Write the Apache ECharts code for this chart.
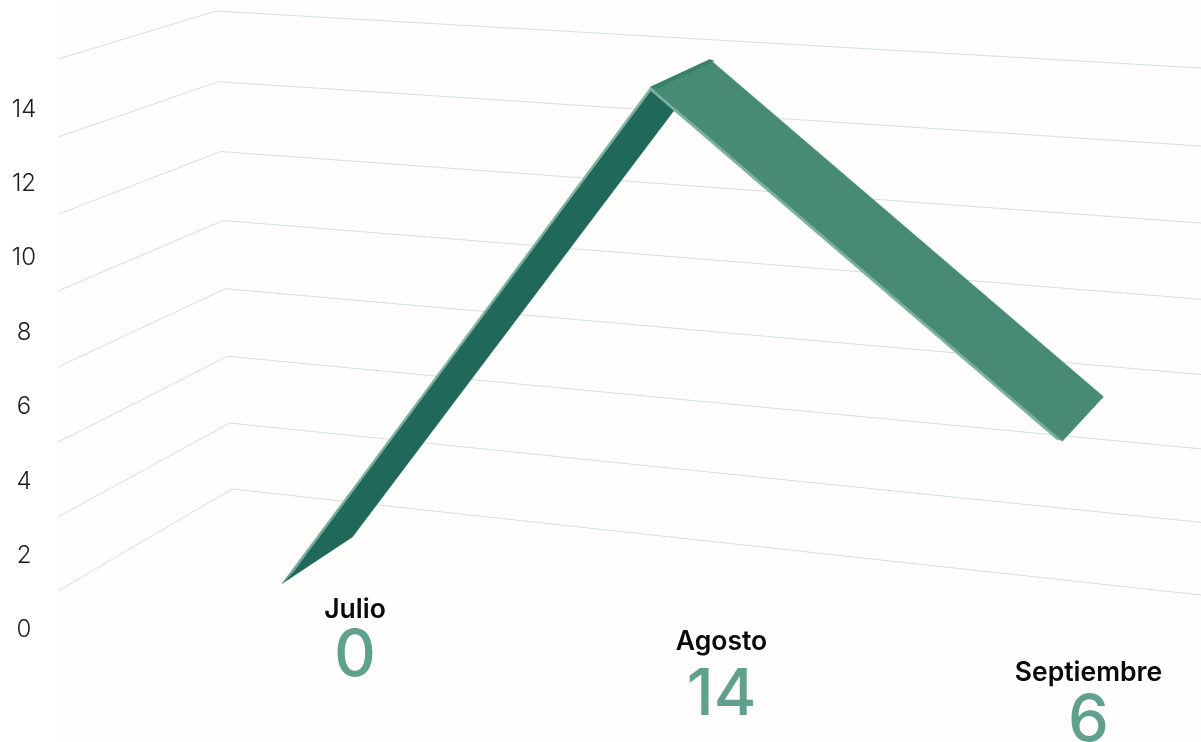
<!DOCTYPE html>
<html><head><meta charset="utf-8">
<style>html,body{margin:0;padding:0;background:#fff;overflow:hidden}#c{width:1201px;height:742px}</style>
<script src="https://cdn.jsdelivr.net/npm/echarts@6/dist/echarts.min.js"></script>
</head><body><div id="c"></div>
<script>
const categories = ['Julio', 'Agosto', 'Septiembre'];
const values = [0, 14, 6];
const tickValues = [0, 2, 4, 6, 8, 10, 12, 14];

const FONT = 'Inter';
const GRID = {left: 58, right: 0, top: 109.5, bottom: 112};
const MAXV = 14;
const SPANX = 1.108, OFFX = 0.001;
const X_NUDGE = [0, -0.003, 0];
const Z_FRONT = 0.74, Z_BACK = 0.303;
const THICK = 0.09;
const WALL_LEFT_PX = 58;
const LABEL_X = [355, 721.5, 1088.5];
const LABEL_Y = [610.5, 642.5, 673.5];
const NUMBER_Y = [656, 695, 721];
const MAT = [[855.2, -1.74, -179.4, 232],
             [49.65, -34.17, 47.44, 489],
             [-0.09475, -0.00277, -0.0923, 1]];
function project(X, Y, Z) {
  const r = m => m[0]*X + m[1]*Y + m[2]*Z + m[3];
  const w = r(MAT[2]);
  return [r(MAT[0])/w, r(MAT[1])/w];
}
// depth at which a wall line at height Y reaches the left edge of the plot
function wallDepth(Y) {
  const u = WALL_LEFT_PX;
  return (u*(MAT[2][1]*Y+1) - MAT[0][1]*Y - MAT[0][3]) / (MAT[0][2] - u*MAT[2][2]);
}
function world(api, params, i, v) {
  const g = params.coordSys, p = api.coord([i, v]);
  return [(p[0]-g.x)/g.width*SPANX + OFFX + X_NUDGE[i], (g.y+g.height-p[1])/g.height*MAXV];
}
const poly = (points, fill, z2) => ({type:'polygon', z2: z2, shape:{points}, style:{fill, stroke:fill, lineWidth:0.4}});
const mix = (a, b, t) => [a[0]+(b[0]-a[0])*t, a[1]+(b[1]-a[1])*t];

const chart = echarts.init(document.getElementById('c'), null, {renderer:'canvas'});
chart.setOption({
  animation:false,
  backgroundColor:'#ffffff',
  graphic:[{type:'rect', z:-10, silent:true, shape:{x:58,y:0,width:1143,height:742}, style:{fill:'#fffefc'}}],
  grid:GRID,
  xAxis:{type:'category', data:categories, show:false},
  yAxis:{type:'value', min:0, max:MAXV, interval:2, splitLine:{show:false}, axisLine:{show:false}, axisTick:{show:false},
    axisLabel:{margin:34, align:'center', fontFamily:FONT, fontSize:24, fontWeight:300, color:'#1c1c1c'}},
  series:[
    {type:'custom', clip:false, silent:true, z:1, data:tickValues.map(v=>[0,v]),
     renderItem(params, api){
       const Y = world(api, params, 0, api.value(1))[1];
       return {type:'polyline', shape:{points:[project(0,Y,wallDepth(Y)), project(0,Y,0), project(1,Y,0)]},
               style:{fill:'none', stroke:'#d3e1da', lineWidth:1}};
     }},
    {type:'custom', clip:false, silent:true, z:2, data:values.slice(1).map((v,i)=>[i,values[i],v]),
     renderItem(params, api){
       const i = api.value(0);
       const a = world(api, params, i, api.value(1)), b = world(api, params, i+1, api.value(2));
       const A = project(a[0],a[1],Z_FRONT), B = project(b[0],b[1],Z_FRONT);
       const kids = [];
       if (b[1] > a[1]) {            // rising: underside is seen
         const Bl = project(b[0],b[1]-THICK,Z_FRONT);
         const Pl = mix(project(a[0],a[1]-THICK,Z_FRONT), Bl, 0.03);
         kids.push(poly([A, Bl, project(b[0],b[1]-THICK,Z_BACK), project(a[0],a[1],Z_BACK)], '#20685a', 1));
         kids.push(poly([A, B, Bl, Pl], '#7bb09f', 2));
       } else {                      // falling: top face is seen
         const Al = project(a[0],a[1]-THICK,Z_FRONT);
         const Pl = mix(Al, project(b[0],b[1]-THICK,Z_FRONT), 0.985);
         kids.push(poly([A, Al, Pl, B], '#7bb09f', 3));
         kids.push(poly([A, project(a[0],a[1],Z_BACK), project(b[0],b[1],Z_BACK), B], '#478b76', 4));
         kids.push(poly([A, project(a[0],a[1],Z_BACK), project(a[0]+0.004,a[1]-0.03,Z_BACK), project(a[0]+0.006,a[1]-0.03,Z_FRONT)], '#37806a', 5));
       }
       return {type:'group', children:kids};
     }},
    {type:'custom', clip:false, silent:true, z:3, data:values.map((v,i)=>[i,v]),
     renderItem(params, api){
       const i = api.value(0);
       return {type:'group', children:[
         {type:'text', style:{x:LABEL_X[i], y:LABEL_Y[i], text:categories[i], align:'center', verticalAlign:'middle', fontFamily:FONT, fontSize:26.5, fontWeight:600, fill:'#0a0a0a'}},
         {type:'text', style:{x:LABEL_X[i], y:NUMBER_Y[i], text:String(api.value(1)), align:'center', verticalAlign:'middle', fontFamily:FONT, fontSize:65, fontWeight:500, fill:'#5fa08e'}}
       ]};
     }}
  ]
});
</script></body></html>
